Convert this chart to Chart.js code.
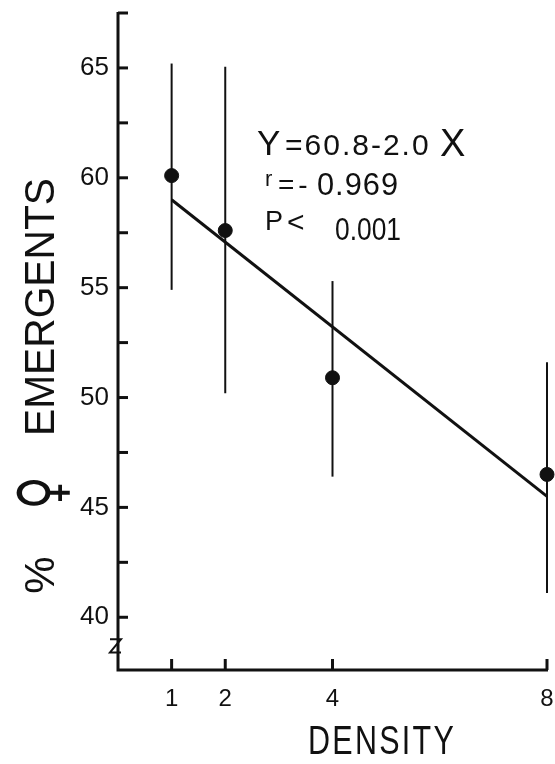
<!DOCTYPE html>
<html>
<head>
<meta charset="utf-8">
<script src="https://cdn.jsdelivr.net/npm/chart.js@4"></script>
<style>
  html, body { margin: 0; padding: 0; background: #fff; }
  #wrap { width: 555px; height: 764px; }
</style>
</head>
<body>
<div id="wrap"><canvas id="chart" width="555" height="764"></canvas></div>
<script>
// values
const density = [1, 2, 4, 8];
const femalePct = [60.1, 57.6, 50.9, 46.5];
const errLow = [54.9, 50.2, 46.4, 41.1];
const errHigh = [65.2, 65.05, 55.3, 51.6];
// regression line as drawn (Y = 60.8 - 2.0X)
const fitX = [1, 8];
const fitY = [59.0, 45.5];

const xTicks = [1, 2, 4, 8];
const yTicks = [40, 42.5, 45, 47.5, 50, 52.5, 55, 57.5, 60, 62.5, 65, 67.5];
const yMin = 37.6, yMax = 67.5;

const INK = '#111';
const FONT = '"Liberation Sans", Arial, sans-serif';

// axes, inward ticks, axis break and error bars
const figurePlugin = {
  id: 'figure',
  beforeDatasetsDraw(chart) {
    const { ctx, chartArea } = chart;
    const xs = chart.scales.x, ys = chart.scales.y;
    const left = chartArea.left, bottom = chartArea.bottom;
    ctx.save();
    ctx.strokeStyle = INK;
    ctx.lineCap = 'butt';
    ctx.lineWidth = 3;
    ctx.beginPath();
    ctx.moveTo(left, ys.getPixelForValue(yMax) - 1);
    ctx.lineTo(left, bottom);
    ctx.lineTo(xs.getPixelForValue(8) + 1, bottom);
    ctx.stroke();

    yTicks.forEach(v => {
      const y = ys.getPixelForValue(v);
      ctx.beginPath();
      ctx.moveTo(left, y);
      ctx.lineTo(left + 10, y);
      ctx.stroke();
    });
    xTicks.forEach(v => {
      const x = xs.getPixelForValue(v);
      ctx.beginPath();
      ctx.moveTo(x, bottom);
      ctx.lineTo(x, bottom - 11);
      ctx.stroke();
    });

    // break mark on the y axis
    const yb1 = ys.getPixelForValue(39.0), yb2 = ys.getPixelForValue(38.4);
    ctx.lineWidth = 2;
    ctx.beginPath();
    ctx.moveTo(left - 8, yb1);
    ctx.lineTo(left + 3, yb1);
    ctx.lineTo(left - 8, yb2);
    ctx.lineTo(left + 3, yb2);
    ctx.stroke();

    // error bars
    ctx.lineWidth = 2;
    density.forEach((d, i) => {
      const x = xs.getPixelForValue(d);
      ctx.beginPath();
      ctx.moveTo(x, ys.getPixelForValue(errHigh[i]));
      ctx.lineTo(x, ys.getPixelForValue(errLow[i]));
      ctx.stroke();
    });
    ctx.restore();
  },
  afterDraw(chart) {
    const { ctx } = chart;
    ctx.save();
    ctx.fillStyle = INK;

    // y axis title
    ctx.translate(42, 384);
    ctx.rotate(-Math.PI / 2);
    ctx.textAlign = 'center';
    ctx.textBaseline = 'middle';
    ctx.font = '42px ' + FONT;
    ctx.fillText('%', -191, 0);
    ctx.fillText('EMERGENTS', 77, 0, 258);
    ctx.save();
    ctx.translate(-109, 4);
    ctx.scale(1, 1.35);
    ctx.font = '46px "DejaVu Sans", sans-serif';
    ctx.fillText('\u2640', 0, 0);
    ctx.restore();
    ctx.restore();

    ctx.save();
    ctx.fillStyle = INK;
    ctx.textBaseline = 'alphabetic';
    ctx.textAlign = 'left';
    // x axis title
    ctx.font = '40px ' + FONT;
    ctx.letterSpacing = '3px';
    ctx.fillText('DENSITY', 308, 754, 148);

    // regression annotation
    ctx.letterSpacing = '0px';
    ctx.font = '35px ' + FONT;
    ctx.fillText('Y', 257, 155);
    ctx.font = '30px ' + FONT;
    ctx.letterSpacing = '2px';
    ctx.fillText('=60.8-2.0', 285, 155, 152);
    ctx.letterSpacing = '0px';
    ctx.font = '38px ' + FONT;
    ctx.fillText('X', 440, 156);

    ctx.font = '22px ' + FONT;
    ctx.fillText('r', 265, 186);
    ctx.font = '28px ' + FONT;
    ctx.letterSpacing = '4px';
    ctx.fillText('=-', 278, 194, 36);
    ctx.letterSpacing = '1px';
    ctx.font = '31px ' + FONT;
    ctx.fillText('0.969', 317, 195, 82);

    ctx.letterSpacing = '0px';
    ctx.font = '27px ' + FONT;
    ctx.fillText('P', 265, 230);
    ctx.font = '30px ' + FONT;
    ctx.fillText('<', 287, 232);
    ctx.font = '32px ' + FONT;
    ctx.fillText('0.001', 335, 240, 66);
    ctx.restore();
  }
};

new Chart(document.getElementById('chart'), {
  type: 'scatter',
  data: {
    datasets: [
      {
        label: 'Regression',
        type: 'line',
        data: fitX.map((x, i) => ({ x, y: fitY[i] })),
        borderColor: INK,
        borderWidth: 3,
        pointRadius: 0,
        fill: false,
        order: 2
      },
      {
        label: '% female emergents',
        data: density.map((x, i) => ({ x, y: femalePct[i] })),
        backgroundColor: INK,
        borderColor: INK,
        pointRadius: 7,
        order: 1,
        clip: false
      }
    ]
  },
  options: {
    responsive: false,
    animation: false,
    layout: { padding: { top: 13, right: 7, bottom: 0, left: 0 } },
    plugins: { legend: { display: false }, tooltip: { enabled: false } },
    scales: {
      x: {
        type: 'linear',
        min: 0,
        max: 8,
        grid: { display: false, drawTicks: false },
        border: { display: false },
        afterBuildTicks: s => { s.ticks = xTicks.map(v => ({ value: v })); },
        afterFit: s => { s.height = 94; s.paddingLeft = 0; s.paddingRight = 0; },
        ticks: { color: INK, font: { family: FONT, size: 24 }, padding: 15, maxRotation: 0 }
      },
      y: {
        min: yMin,
        max: yMax,
        grid: { display: false, drawTicks: false },
        border: { display: false },
        afterBuildTicks: s => { s.ticks = yTicks.map(v => ({ value: v })); },
        afterFit: s => { s.width = 118; s.paddingTop = 0; s.paddingBottom = 0; },
        ticks: {
          color: INK,
          font: { family: FONT, size: 26 },
          padding: 9,
          callback: v => (v % 5 === 0 ? String(v) : '')
        }
      }
    }
  },
  plugins: [figurePlugin]
});
</script>
</body>
</html>
